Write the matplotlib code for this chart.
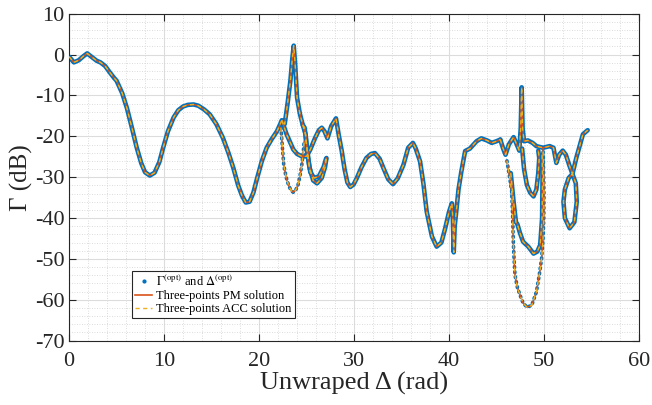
import numpy as np
import matplotlib
matplotlib.use("Agg")
import matplotlib.pyplot as plt
from matplotlib.lines import Line2D

plt.rcParams["font.family"] = ["Liberation Serif", "DejaVu Serif"]
plt.rcParams["mathtext.fontset"] = "stix"
plt.rcParams["axes.unicode_minus"] = False

BLUE = "#0072BD"
ORANGE = "#D95319"
YELLOW = "#EDB120"

# main trace: start -> big peak near 23.6 rad -> first loop
x_main = [0, 0.5, 1.0, 1.5, 1.9, 2.4, 2.9, 3.3, 3.8, 4.3, 4.7, 5.0, 5.6, 6.1, 6.6,
          7.1, 7.6, 8.0, 8.5, 9.0, 9.5, 9.9, 10.4, 11.0, 11.5, 12.0, 12.5, 13.1,
          13.6, 14.2, 14.8, 15.5, 16.2, 16.8, 17.3, 17.8, 18.2, 18.6, 19.0, 19.4,
          19.8, 20.3, 20.8, 21.3, 21.9, 22.4, 22.7, 23.0, 23.3, 23.5, 23.65, 23.8,
          24.0, 24.3, 24.6, 24.8, 25.0, 25.3, 25.7, 26.1, 26.6, 26.95, 27.1]
y_main = [-0.5, -1.9, -1.4, -0.4, 0.3, -0.6, -1.5, -1.9, -2.8, -4.4, -5.6, -6.4,
          -9.5, -13.2, -17.8, -22.6, -26.6, -28.8, -29.6, -28.9, -26.3, -22.8,
          -18.8, -15.4, -13.6, -12.7, -12.3, -12.2, -12.5, -13.4, -14.6, -17.0,
          -20.4, -24.2, -27.8, -32.0, -34.5, -36.2, -36.0, -33.8, -30.2, -26.0,
          -22.8, -20.8, -18.7, -16.1, -17.0, -12.0, -6.4, -1.0, 2.2, -2.3, -10.5,
          -14.5, -17.2, -17.9, -22.0, -27.5, -30.8, -31.5, -30.2, -27.5, -25.3]

# second loop next to the first one
x_loop = [24.6, 24.9, 25.1, 25.4, 25.8, 26.3, 26.8, 27.05]
y_loop = [-17.2, -19.5, -24.5, -28.8, -30.2, -29.8, -27.5, -25.5]

# sparse dip under the big peak
x_dip = [22.3, 22.45, 22.6, 22.85, 23.1, 23.35, 23.6, 23.85, 24.1, 24.3, 24.5,
         24.65, 24.75]
y_dip = [-17.9, -22.5, -27.0, -30.0, -31.9, -33.2, -33.7, -33.2, -31.9, -29.8,
         -27.0, -24.0, -21.2]

# middle trace: 22.4 rad -> 45.4 rad
x_mid = [22.4, 22.9, 23.3, 23.6, 24.0, 24.5, 25.0, 25.4, 25.9, 26.3, 26.6, 26.9,
         27.2, 27.6, 28.1, 28.4, 28.7, 29.0, 29.3, 29.6, 29.95, 30.3, 30.8, 31.3,
         31.8, 32.2, 32.7, 33.1, 33.6, 34.1, 34.6, 35.2, 35.7, 36.2, 36.5, 36.95,
         37.3, 37.65, 38.2, 38.7, 39.2, 39.6, 40.0, 40.3, 40.4, 40.5, 40.6, 40.8,
         41.0, 41.3, 41.7, 42.2, 42.9, 43.4, 44.0, 44.5, 45.0, 45.4]
y_mid = [-16.1, -19.5, -21.6, -23.2, -24.3, -24.9, -24.9, -23.2, -20.4, -18.5,
         -17.9, -18.8, -20.5, -17.5, -15.6, -19.8, -23.5, -28.0, -31.3, -32.4,
         -31.8, -30.2, -27.5, -25.3, -24.3, -24.1, -25.5, -27.8, -30.5, -31.7,
         -30.3, -27.0, -22.8, -21.6, -23.0, -26.1, -31.5, -38.4, -44.5, -47.0,
         -46.0, -42.5, -38.5, -36.4, -40.0, -48.4, -42.0, -37.6, -33.0, -28.6,
         -23.6, -23.0, -21.2, -20.5, -21.0, -21.6, -21.2, -20.8]

# end trace: 45.4 rad -> 54.6 rad (narrow spike, closed loop near 53 rad)
x_end = [45.4, 45.7, 45.95, 46.3, 46.8, 47.1, 47.4, 47.55, 47.65, 47.75, 47.9,
         48.3, 48.8, 49.2, 49.9, 50.6, 51.0, 51.3, 51.6, 51.97, 52.3, 52.7, 53.0,
         52.6, 52.2, 52.05, 52.2, 52.7, 53.2, 53.45, 53.35, 53.0, 53.4, 53.8,
         54.1, 54.6]
y_end = [-20.8, -23.0, -24.5, -22.0, -20.2, -21.8, -23.5, -18.0, -8.0, -18.0,
         -21.2, -21.0, -21.6, -22.4, -22.8, -22.4, -22.8, -26.5, -24.5, -23.5,
         -24.5, -27.3, -29.2, -30.2, -33.0, -36.0, -40.0, -42.5, -41.0, -36.0,
         -31.5, -29.2, -25.3, -22.0, -19.5, -18.5]

# the three U-shaped excursions between 46 and 50 rad
x_u1 = [46.1, 46.35, 46.6, 46.7, 46.77, 46.85, 46.95, 47.2, 47.5, 47.8, 48.2,
        48.7, 49.2, 49.5, 49.75, 49.9, 49.98, 50.0, 49.95, 49.9]
y_u1 = [-26.0, -29.5, -33.5, -39.5, -45.8, -50.0, -54.0, -57.0, -59.0, -60.8,
        -61.8, -61.4, -58.1, -54.0, -49.9, -45.0, -40.0, -34.3, -28.0, -23.0]
x_u2 = [46.5, 46.8, 47.05, 47.2, 47.45, 47.8, 48.35, 48.9, 49.3, 49.6, 49.8,
        49.85, 49.8]
y_u2 = [-29.0, -36.0, -41.0, -41.5, -43.5, -45.8, -47.0, -48.7, -48.2, -46.6,
        -40.0, -30.0, -24.5]
x_u3 = [47.7, 47.9, 48.2, 48.55, 48.9, 49.2, 49.4, 49.5, 49.4]
y_u3 = [-23.0, -28.0, -31.9, -33.8, -34.7, -33.0, -29.0, -25.3, -23.5]

dense = [(x_main, y_main), (x_loop, y_loop), (x_mid, y_mid), (x_end, y_end),
         (x_u2, y_u2), (x_u3, y_u3)]
sparse = [(x_dip, y_dip), (x_u1, y_u1)]

fig = plt.figure(figsize=(6.52, 4.05), dpi=100)
ax = fig.add_axes([0.106, 0.159, 0.874, 0.807])

for xs, ys in dense:
    ax.plot(xs, ys, color=BLUE, lw=3.3, solid_capstyle="round",
            solid_joinstyle="round", zorder=2)
for xs, ys in sparse:
    ax.plot(xs, ys, color=BLUE, lw=2.6, ls=(0, (0.3, 1.1)),
            dash_capstyle="round", zorder=2)
for xs, ys in dense + sparse:
    ax.plot(xs, ys, color=ORANGE, lw=1.0, zorder=3)
    ax.plot(xs, ys, color=YELLOW, lw=1.0, ls=(0, (3, 2.5)), zorder=4)

ax.set_xlim(0, 60)
ax.set_ylim(-70, 10)
ax.set_xticks(np.arange(0, 61, 10))
ax.set_yticks(np.arange(-70, 11, 10))
ax.set_xticks(np.arange(0, 61, 2), minor=True)
ax.set_yticks(np.arange(-70, 11, 2), minor=True)
ax.grid(which="major", color="#dcdcdc", lw=0.8, ls="-")
ax.grid(which="minor", color="#d0d0d0", lw=0.6, ls=(0, (1, 2)))
ax.set_axisbelow(True)
ax.tick_params(which="major", direction="in", length=5, width=0.8,
               labelsize=16, colors="#262626", top=True, right=True)
ax.tick_params(axis="x", which="major", pad=8)
ax.tick_params(which="minor", length=0)
for sp in ax.spines.values():
    sp.set_color("#262626")
    sp.set_linewidth(0.8)

ax.set_xlabel("Unwraped Δ (rad)", fontsize=19, color="#262626", labelpad=1)
ax.set_ylabel("Γ (dB)", fontsize=18, color="#262626", labelpad=1)

handles = [
    Line2D([], [], color=BLUE, marker=".", ls="none", ms=4),
    Line2D([], [], color=ORANGE, lw=1.2),
    Line2D([], [], color=YELLOW, lw=1.0, ls=(0, (3, 2.5))),
]
labels = [r"$\Gamma^{(\mathrm{opt})}$ and $\Delta^{(\mathrm{opt})}$",
          "Three-points PM solution", "Three-points ACC solution"]
leg = ax.legend(handles, labels, loc="lower left", bbox_to_anchor=(0.11, 0.068),
                fontsize=9, frameon=True, fancybox=False, framealpha=1,
                edgecolor="#262626", handlelength=1.4, handletextpad=0.3,
                borderpad=0.25, labelspacing=0.1, borderaxespad=0)
leg.get_frame().set_linewidth(0.8)

fig.savefig("out.png", dpi=100)
